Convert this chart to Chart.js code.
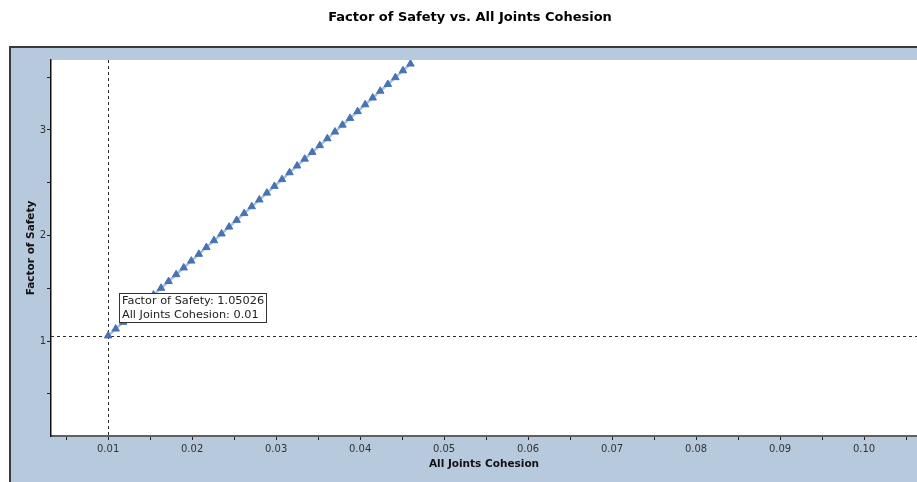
<!DOCTYPE html>
<html>
<head>
<meta charset="utf-8">
<script src="https://cdn.jsdelivr.net/npm/chart.js@4/dist/chart.umd.min.js"></script>
<style>
  html, body { margin: 0; padding: 0; background: #ffffff; }
  #wrap { width: 917px; height: 482px; position: relative; }
</style>
</head>
<body>
<div id="wrap"><canvas id="c" width="917" height="482"></canvas></div>
<script>
// ---- data ----
const chartTitle = 'Factor of Safety vs. All Joints Cohesion';
const xAxisTitle = 'All Joints Cohesion';
const yAxisTitle = 'Factor of Safety';

const cohesion = [
  0.0100, 0.0109, 0.0118, 0.0127, 0.0136, 0.0145, 0.0154, 0.0163, 0.0172, 0.0181,
  0.0190, 0.0199, 0.0208, 0.0217, 0.0226, 0.0235, 0.0244, 0.0253, 0.0262, 0.0271,
  0.0280, 0.0289, 0.0298, 0.0307, 0.0316, 0.0325, 0.0334, 0.0343, 0.0352, 0.0361,
  0.0370, 0.0379, 0.0388, 0.0397, 0.0406, 0.0415, 0.0424, 0.0433, 0.0442, 0.0451,
  0.0460
];
const factorOfSafety = [
  1.050, 1.115, 1.179, 1.243, 1.308, 1.372, 1.437, 1.501, 1.565, 1.630,
  1.694, 1.759, 1.823, 1.887, 1.952, 2.016, 2.081, 2.145, 2.209, 2.274,
  2.338, 2.403, 2.467, 2.531, 2.596, 2.660, 2.725, 2.789, 2.853, 2.918,
  2.982, 3.047, 3.111, 3.175, 3.240, 3.304, 3.369, 3.433, 3.497, 3.562,
  3.626
];

const xRange = [0.0032, 0.1063];
const yRange = [0.10, 3.663];

const xTickValues = [0.005, 0.010, 0.015, 0.020, 0.025, 0.030, 0.035, 0.040, 0.045, 0.050,
                     0.055, 0.060, 0.065, 0.070, 0.075, 0.080, 0.085, 0.090, 0.095, 0.100, 0.105];
const xLabelValues = [0.01, 0.02, 0.03, 0.04, 0.05, 0.06, 0.07, 0.08, 0.09, 0.10];
const xTickLabels  = ['0.01', '0.02', '0.03', '0.04', '0.05', '0.06', '0.07', '0.08', '0.09', '0.10'];

const yTickValues = [0.5, 1.0, 1.5, 2.0, 2.5, 3.0, 3.5];
const yLabelValues = [1, 2, 3];
const yTickLabels  = ['1', '2', '3'];

const selectedX = 0.01;
const selectedY = 1.05026;
const selectedLines = ['Factor of Safety: 1.05026', 'All Joints Cohesion: 0.01'];

// ---- styling ----
const FONT = "'DejaVu Sans', Verdana, sans-serif";
const frameBlue = '#b7c9dd';

function labelFor(values, labels, v) {
  for (let i = 0; i < values.length; i++) {
    if (Math.abs(values[i] - v) < 1e-9) return labels[i];
  }
  return '';
}

const framePlugin = {
  id: 'frame',
  beforeDraw(chart) {
    const ctx = chart.ctx;
    const ca = chart.chartArea;
    ctx.save();
    ctx.fillStyle = frameBlue;
    ctx.fillRect(9, 46, chart.width - 9, chart.height - 46);
    ctx.fillStyle = '#3a3a3a';
    ctx.fillRect(9, 46, chart.width - 9, 2);
    ctx.fillRect(9, 46, 2, chart.height - 46);
    ctx.fillStyle = '#ffffff';
    ctx.fillRect(ca.left, ca.top, ca.right - ca.left, ca.bottom - ca.top);
    // chart title
    ctx.fillStyle = '#000000';
    ctx.font = 'bold 13px ' + FONT;
    ctx.textAlign = 'center';
    ctx.textBaseline = 'middle';
    ctx.fillText(chartTitle, 470, 18);
    ctx.restore();
  },
  beforeDatasetsDraw(chart) {
    const ctx = chart.ctx;
    const ca = chart.chartArea;
    const xs = chart.scales.x, ys = chart.scales.y;
    const px = Math.round(xs.getPixelForValue(selectedX)) + 0.5;
    const py = Math.round(ys.getPixelForValue(selectedY)) + 0.5;
    ctx.save();
    ctx.strokeStyle = '#2a2a2a';
    ctx.lineWidth = 1;
    ctx.setLineDash([3, 3]);
    ctx.beginPath();
    ctx.moveTo(px, ca.top);
    ctx.lineTo(px, ca.bottom);
    ctx.moveTo(ca.left, py);
    ctx.lineTo(ca.right, py);
    ctx.stroke();
    ctx.restore();
  },
  afterDatasetsDraw(chart) {
    const ctx = chart.ctx;
    const xs = chart.scales.x, ys = chart.scales.y;
    const px = xs.getPixelForValue(selectedX);
    const py = ys.getPixelForValue(selectedY);
    ctx.save();
    ctx.font = '11.3px ' + FONT;
    let w = 0;
    selectedLines.forEach(t => { w = Math.max(w, ctx.measureText(t).width); });
    const bx = Math.round(px + 11) + 0.5;
    const by = Math.round(py - 43) + 0.5;
    const bw = Math.round(w + 5);
    const bh = 29;
    ctx.fillStyle = '#ffffff';
    ctx.fillRect(bx, by, bw, bh);
    ctx.strokeStyle = '#333333';
    ctx.lineWidth = 1;
    ctx.strokeRect(bx, by, bw, bh);
    ctx.fillStyle = '#222222';
    ctx.textBaseline = 'middle';
    ctx.textAlign = 'left';
    ctx.fillText(selectedLines[0], bx + 2.5, by + 8);
    ctx.fillText(selectedLines[1], bx + 2.5, by + 22);
    ctx.restore();
  }
};

new Chart(document.getElementById('c'), {
  type: 'scatter',
  data: {
    datasets: [{
      label: yAxisTitle,
      data: cohesion.map((x, i) => ({ x: x, y: factorOfSafety[i] })),
      showLine: true,
      borderColor: '#a7bfdf',
      borderWidth: 2.5,
      pointStyle: 'triangle',
      pointRadius: 4.3,
      pointBackgroundColor: '#4673b1',
      pointBorderColor: '#4673b1',
      pointBorderWidth: 1
    }]
  },
  options: {
    responsive: false,
    animation: false,
    layout: { autoPadding: false, padding: { left: 0, right: 0, top: 60, bottom: 0 } },
    plugins: {
      legend: { display: false },
      tooltip: { enabled: false },
      title: { display: false }
    },
    scales: {
      x: {
        type: 'linear',
        position: 'bottom',
        min: xRange[0],
        max: xRange[1],
        afterFit(s) { s.height = 46; s.paddingLeft = 0; s.paddingRight = 0; },
        afterBuildTicks(s) { s.ticks = xTickValues.map(v => ({ value: v })); },
        ticks: {
          autoSkip: false,
          maxRotation: 0,
          padding: 3,
          color: '#333333',
          font: { family: FONT, size: 10 },
          callback: v => labelFor(xLabelValues, xTickLabels, v)
        },
        grid: { drawOnChartArea: false, drawTicks: true, tickLength: 4, tickColor: '#222222' },
        border: { display: true, color: '#5f5f5f', width: 2 },
        title: {
          display: true,
          text: xAxisTitle,
          color: '#111111',
          font: { family: FONT, size: 10.5, weight: 'bold', lineHeight: 1.2 },
          padding: { top: 0, bottom: 11 }
        }
      },
      y: {
        type: 'linear',
        position: 'left',
        min: yRange[0],
        max: yRange[1],
        afterFit(s) { s.width = 51; s.paddingTop = 0; s.paddingBottom = 0; },
        afterBuildTicks(s) { s.ticks = yTickValues.map(v => ({ value: v })); },
        ticks: {
          autoSkip: false,
          padding: 1,
          color: '#333333',
          font: { family: FONT, size: 10 },
          callback: v => labelFor(yLabelValues, yTickLabels, v)
        },
        grid: { drawOnChartArea: false, drawTicks: true, tickLength: 4, tickColor: '#222222' },
        border: { display: true, color: '#111111', width: 1.5 },
        title: {
          display: true,
          text: yAxisTitle,
          color: '#111111',
          font: { family: FONT, size: 10.5, weight: 'bold', lineHeight: 1.2 },
          padding: { top: 25, bottom: 0 }
        }
      }
    }
  },
  plugins: [framePlugin]
});
</script>
</body>
</html>
